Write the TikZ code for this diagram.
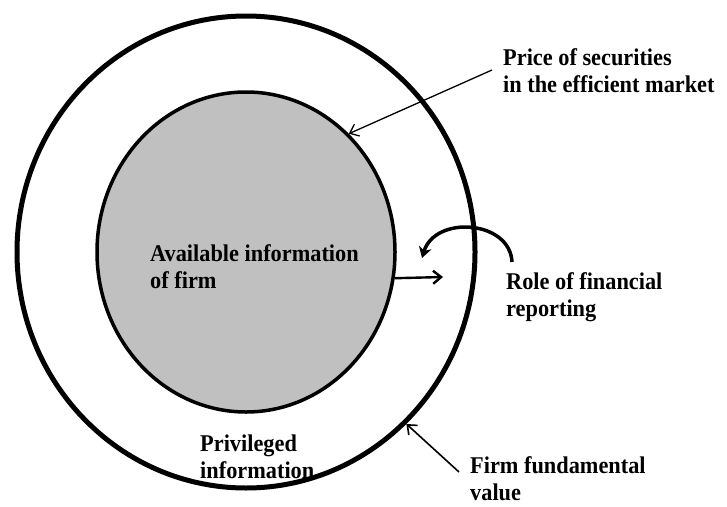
\documentclass[tikz,border=0pt]{standalone}
\usepackage{fontspec}
\setmainfont{Liberation Serif}[FakeStretch=0.93]
\usetikzlibrary{shapes.geometric,arrows.meta}
\definecolor{panelgray}{RGB}{192,192,192}
\begin{document}
\begin{tikzpicture}[x=1pt,y=-1pt,
  labeltext/.style={anchor=base west, inner sep=0pt, align=left,
    font=\bfseries\fontsize{24}{26.5}\selectfont},
  ring/.style={ellipse, draw=black, inner sep=0pt},
  pointer/.style={draw=black, line width=1.6pt,
    -{Straight Barb[length=8pt,width=13pt]}}]
\useasboundingbox (0,0) rectangle (727,506);

% the two nested rings
\node[ring, line width=5pt, minimum width=458pt, minimum height=472pt] (outer) at (246,252) {};
\node[ring, line width=3.5pt, fill=panelgray, minimum width=298pt, minimum height=320pt] (inner) at (246,252) {};

% labels (positioned by the baseline of their last line)
\node[labeltext] (avail) at (150,288) {Available information\\of firm};
\node[labeltext] (priv) at (200,478) {Privileged\\information};
\node[labeltext] (price) at (503,92) {Price of securities\\in the efficient market};
\node[labeltext] (role) at (506,316) {Role of financial\\reporting};
\node[labeltext] (firm) at (470,500) {Firm fundamental\\value};

% pointers from the labels to the rings
\draw[pointer, line width=1.3pt] ([shift={(-11,-22)}]price.base west) -- (inner.49);
\draw[pointer] ([shift={(-11,-28)}]firm.base west) -- (outer.-47);

% outflow from the inner ring
\coordinate (rep) at (443,277);
\draw[pointer, line width=2.4pt] (inner.-10) -- (rep);

% feedback loop of financial reporting
\coordinate (loopstart) at (512,262);
\coordinate (looptip) at (422,258);
\draw[line width=3.5pt, -{Stealth[length=11pt,width=13pt]}]
  (loopstart) .. controls (510,220) and (435,215) .. (looptip);
\end{tikzpicture}
\end{document}
